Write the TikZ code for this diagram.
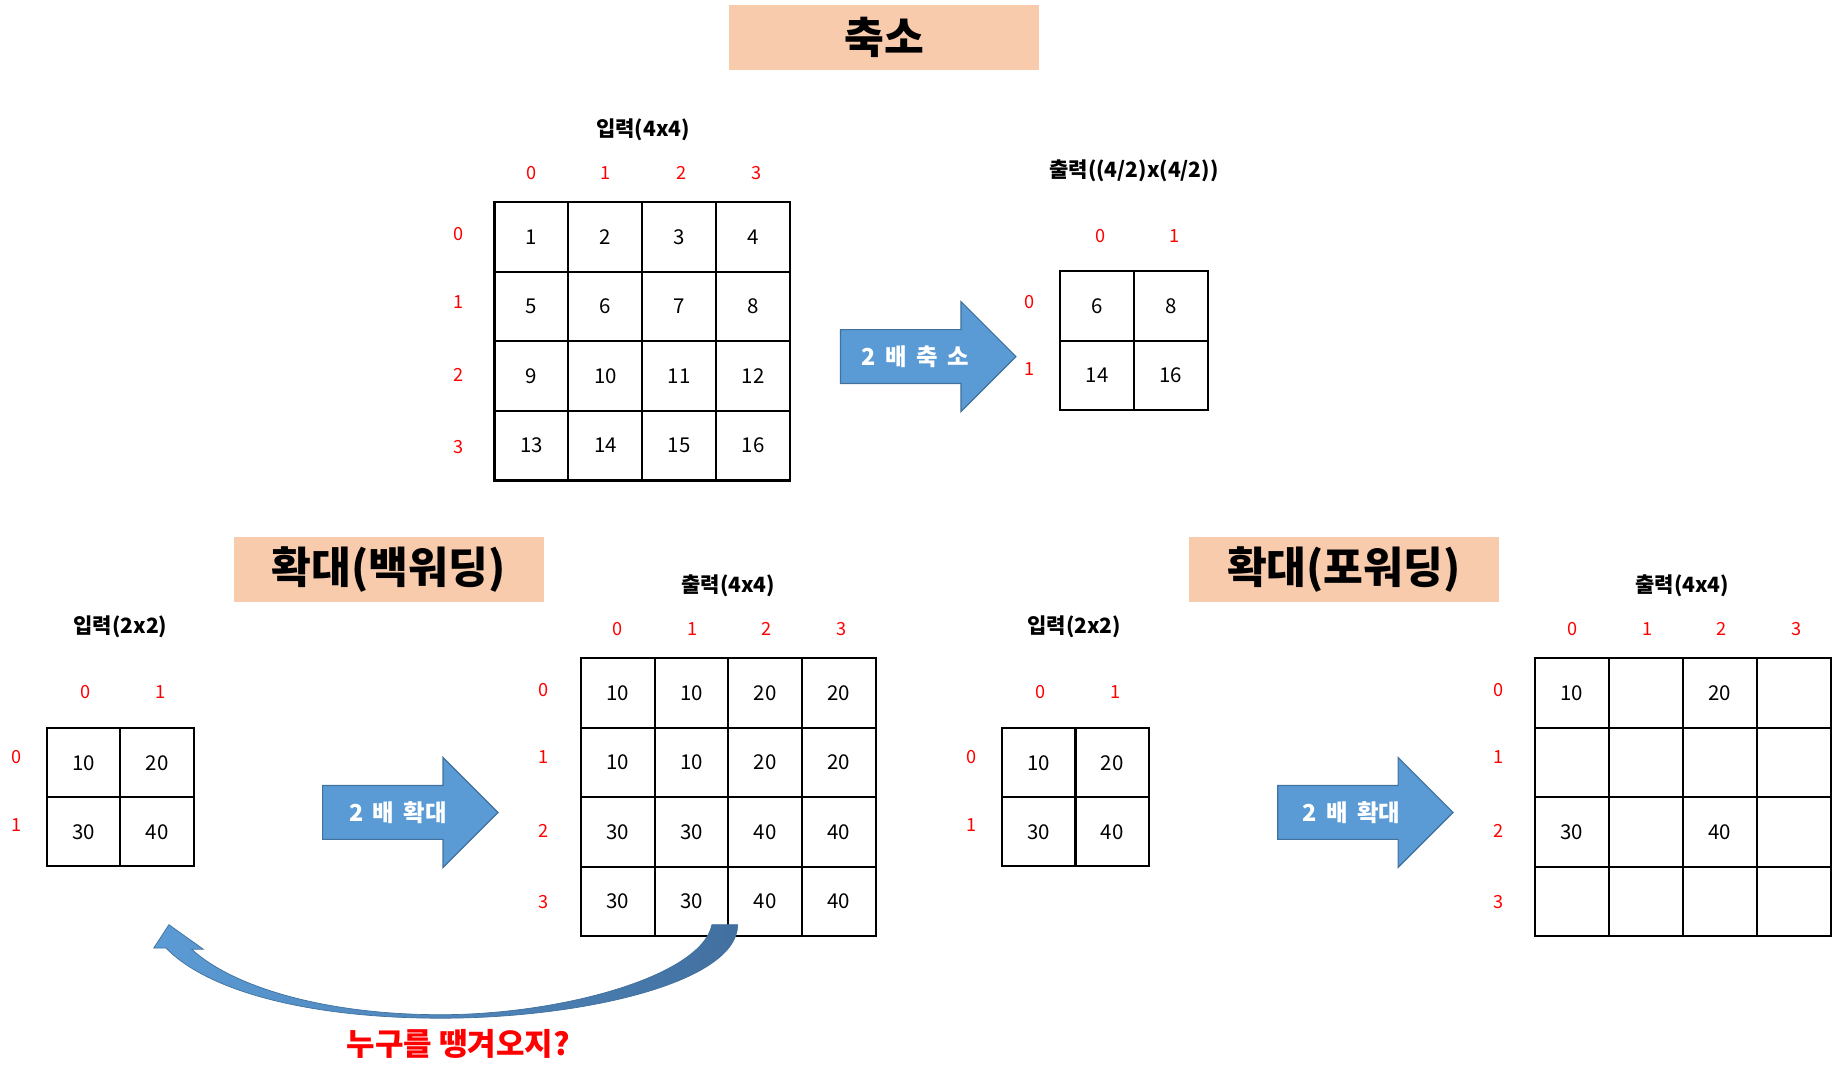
\documentclass[tikz,border=0pt]{standalone}
\usepackage{fontspec}
\setmainfont{Noto Sans CJK KR}
\definecolor{peach}{RGB}{248,203,173}
\definecolor{arrowblue}{RGB}{91,155,213}
\definecolor{arrowedge}{RGB}{65,113,156}
\definecolor{darkblue}{RGB}{66,112,160}
\definecolor{idxred}{RGB}{255,0,0}
\begin{document}
\begin{tikzpicture}[x=1pt,y=-1pt,
  cell/.style={draw=black, line width=1.8pt, inner sep=0pt, minimum width=63pt, minimum height=59.5pt, font=\fontsize{17.5}{20}\selectfont},
  idx/.style={text=idxred, inner sep=0pt, font=\fontsize{15.5}{18}\selectfont},
  gridtitle/.style={inner sep=0pt, font=\bfseries\fontsize{18}{22}\selectfont},
  titlebox/.style={fill=peach, minimum width=265pt, minimum height=56pt, inner sep=0pt, font=\bfseries\fontsize{37}{40}\selectfont},
  arrowtext/.style={text=white, inner sep=0pt, font=\bfseries\fontsize{20}{22}\selectfont, execute at begin node={\spaceskip=8pt\relax}},
  blockarrow/.style={fill=arrowblue, draw=arrowedge, line width=1pt, line join=miter},
  question/.style={text=idxred, inner sep=0pt, font=\bfseries\fontsize{26.5}{30}\selectfont}
]
\useasboundingbox (0,0) rectangle (1568,925);

% ---------- titles ----------
\node[titlebox] (t1) at (756.5,32) {축소};
\node[titlebox] (t2) at (332.5,487) {확대(백워딩)};
\node[titlebox] (t3) at (1149.5,487) {확대(포워딩)};

% ---------- top: reduction ----------
\node[gridtitle] (g1) at (550,111) {입력(4x4)};
\foreach \x [count=\i from 0] in {455,518,583,647} \node[idx] (c1-\i) at (\x,148) {\i};
\foreach \y [count=\i from 0] in {200,258,321,382} \node[idx] (r1-\i) at (392,\y) {\i};
\foreach \r in {0,...,3} \foreach \c in {0,...,3} {
  \pgfmathtruncatemacro\v{4*\r+\c+1}
  \node[cell, minimum width=63.25pt] (a-\r-\c) at ({454.6+63.25*\c},{202.75+59.5*\r}) {\v};
}
\draw[blockarrow] (719,282) -- ++(103,0) -- ++(0,-24) -- ++(47,47) -- ++(-47,47) -- ++(0,-24) -- ++(-103,0) -- cycle;
\node[arrowtext] (l1) at (783,305) {2 배 축 소};

\node[gridtitle] (g2) at (970,146) {출력((4/2)x(4/2))};
\foreach \x [count=\i from 0] in {941,1005} \node[idx] (c2-\i) at (\x,202) {\i};
\foreach \y [count=\i from 0] in {258,316} \node[idx] (r2-\i) at (881,\y) {\i};
\foreach \v/\r/\c in {6/0/0,8/0/1,14/1/0,16/1/1}
  \node[cell] (b-\r-\c) at ({938.5+63*\c},{261.75+59.5*\r}) {\v};

% ---------- bottom left: backward ----------
\node[gridtitle] (g3) at (103,536) {입력(2x2)};
\foreach \x [count=\i from 0] in {73,137} \node[idx] (c3-\i) at (\x,592) {\i};
\foreach \y [count=\i from 0] in {648,706} \node[idx] (r3-\i) at (14,\y) {\i};
\foreach \v/\r/\c in {10/0/0,20/0/1,30/1/0,40/1/1}
  \node[cell, minimum height=59pt] (d-\r-\c) at ({71.5+63*\c},{652.5+59*\r}) {\v};

\draw[blockarrow] (276,672) -- ++(103,0) -- ++(0,-24) -- ++(47,47) -- ++(-47,47) -- ++(0,-24) -- ++(-103,0) -- cycle;
\node[arrowtext] (l2) at (340.5,695) {2 배 확대};

\node[gridtitle] (g4) at (623,501) {출력(4x4)};
\foreach \x [count=\i from 0] in {528,592,656,720} \node[idx] (c4-\i) at (\x,538) {\i};
\foreach \y [count=\i from 0] in {590,648,711,772} \node[idx] (r4-\i) at (465,\y) {\i};
\foreach \row [count=\r from 0] in {{10,10,20,20},{10,10,20,20},{30,30,40,40},{30,30,40,40}}
  \foreach \v [count=\c from 0] in \row
    \node[cell] (e-\r-\c) at ({528.5+63*\c},{592.75+59.5*\r}) {\v};

% curved arrow
\shade[left color=arrowblue, right color=darkblue, draw=arrowedge, line width=0.6pt, line join=miter]
  (609,791) -- (631,791)
  .. controls (631,840) and (500,871) .. (377,871)
  .. controls (270,871) and (180,850) .. (142,811)
  -- (131.5,811) -- (144.5,791) -- (174,812) -- (164,812)
  .. controls (200,845) and (280,868) .. (377,868)
  .. controls (480,868) and (600,835) .. (609,791) -- cycle;
\node[question] (q) at (392,893) {누구를 땡겨오지?};

% ---------- bottom right: forward ----------
\node[gridtitle] (g5) at (919,536) {입력(2x2)};
\foreach \x [count=\i from 0] in {890,954} \node[idx] (c5-\i) at (\x,592) {\i};
\foreach \y [count=\i from 0] in {648,706} \node[idx] (r5-\i) at (831,\y) {\i};
\foreach \v/\r/\c in {10/0/0,20/0/1,30/1/0,40/1/1}
  \node[cell, minimum height=59pt] (f-\r-\c) at ({888.5+63*\c},{652.5+59*\r}) {\v};

\draw[blockarrow] (1093,672) -- ++(103,0) -- ++(0,-24) -- ++(47,47) -- ++(-47,47) -- ++(0,-24) -- ++(-103,0) -- cycle;
\node[arrowtext] (l3) at (1156,695) {2 배 확대};

\node[gridtitle] (g6) at (1439,501) {출력(4x4)};
\foreach \x [count=\i from 0] in {1345,1409,1473,1537} \node[idx] (c6-\i) at (\x,538) {\i};
\foreach \y [count=\i from 0] in {590,648,711,772} \node[idx] (r6-\i) at (1282,\y) {\i};
\foreach \row [count=\r from 0] in {{10,{},20,{}},{{},{},{},{}},{30,{},40,{}},{{},{},{},{}}}
  \foreach \v [count=\c from 0] in \row
    \node[cell, minimum width=63.25pt] (h-\r-\c) at ({1344.6+63.25*\c},{592.75+59.5*\r}) {\v};
\end{tikzpicture}
\end{document}
